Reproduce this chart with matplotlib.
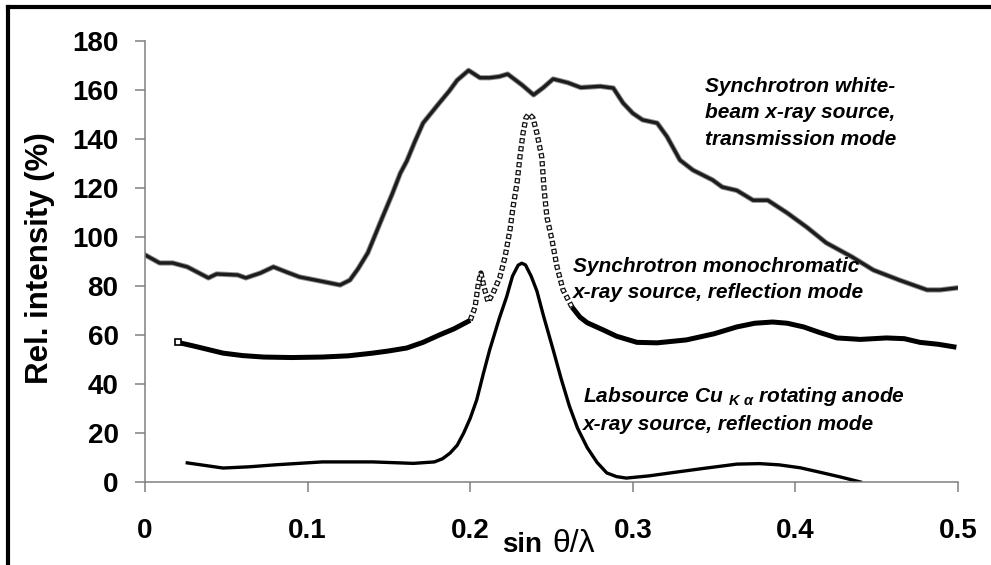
import matplotlib
matplotlib.use("Agg")
import matplotlib.pyplot as plt
from matplotlib.lines import Line2D
import numpy as np

plt.rcParams['font.family'] = ['Liberation Sans', 'DejaVu Sans']
plt.rcParams['mathtext.fontset'] = 'custom'
plt.rcParams['mathtext.it'] = 'Liberation Sans:italic:bold'
plt.rcParams['mathtext.rm'] = 'Liberation Sans:italic:bold'
plt.rcParams['lines.scale_dashes'] = False

# white-beam synchrotron, transmission mode
white_x = [0.0, 0.009, 0.017, 0.026, 0.039, 0.044, 0.057, 0.062, 0.071, 0.079,
           0.087, 0.095, 0.108, 0.120, 0.126, 0.131, 0.137, 0.146, 0.152, 0.157,
           0.161, 0.166, 0.171, 0.181, 0.187, 0.192, 0.199, 0.206, 0.212, 0.218,
           0.223, 0.226, 0.232, 0.239, 0.245, 0.251, 0.260, 0.268, 0.280, 0.288,
           0.294, 0.300, 0.306, 0.315, 0.321, 0.329, 0.337, 0.349, 0.355, 0.364,
           0.374, 0.383, 0.395, 0.407, 0.419, 0.435, 0.448, 0.464, 0.481, 0.489,
           0.499]
white_y = [92.7, 89.4, 89.4, 87.8, 83.3, 84.9, 84.5, 83.3, 85.3, 87.8,
           85.7, 83.7, 82.0, 80.4, 82.4, 87.0, 93.5, 108.0, 117.5, 126.0,
           131.0, 139.0, 146.5, 154.7, 159.5, 164.0, 168.0, 165.0, 165.0, 165.5,
           166.5, 165.0, 162.0, 158.0, 161.0, 164.5, 163.0, 161.0, 161.5, 160.8,
           154.7, 150.5, 147.8, 146.5, 141.0, 131.4, 127.3, 123.3, 120.4, 119.0,
           115.0, 115.0, 109.8, 104.0, 97.6, 91.8, 86.5, 82.4, 78.4, 78.4,
           79.2]

# monochromatic synchrotron, reflection mode
mono_x = [0.020, 0.030, 0.048, 0.060, 0.073, 0.090, 0.109, 0.125, 0.140, 0.150,
          0.161, 0.171, 0.181, 0.190, 0.200, 0.203, 0.205, 0.2066, 0.2085, 0.211,
          0.214, 0.2183, 0.2214, 0.2245, 0.2263, 0.2288, 0.2306, 0.2325, 0.2343, 0.2360,
          0.2386, 0.241, 0.244, 0.2455, 0.2472, 0.2503, 0.2534, 0.2571, 0.2626, 0.2675,
          0.272, 0.282, 0.290, 0.3026, 0.315, 0.333, 0.350, 0.364, 0.375, 0.386,
          0.395, 0.405, 0.415, 0.4256, 0.440, 0.456, 0.467, 0.4766, 0.488, 0.499]
mono_y = [57.0, 55.5, 52.6, 51.6, 51.0, 50.8, 51.0, 51.5, 52.6, 53.5,
          54.7, 57.0, 60.0, 62.5, 66.0, 71.4, 81.0, 85.3, 79.6, 73.5,
          77.0, 83.7, 91.8, 103.0, 112.0, 122.0, 132.7, 142.4, 148.6, 150.2,
          148.6, 142.4, 132.7, 119.0, 108.0, 98.8, 87.8, 78.4, 71.4, 67.3,
          65.0, 62.0, 59.5, 57.0, 56.8, 58.0, 60.5, 63.3, 64.8, 65.3,
          64.8, 63.3, 61.0, 58.8, 58.2, 58.8, 58.5, 57.0, 56.2, 55.0]

# lab source Cu K-alpha rotating anode, reflection mode
lab_x = [0.026, 0.048, 0.064, 0.080, 0.109, 0.140, 0.165, 0.178, 0.183, 0.1876,
         0.192, 0.196, 0.200, 0.204, 0.208, 0.212, 0.215, 0.218, 0.2224, 0.226,
         0.2295, 0.2317, 0.234, 0.2375, 0.241, 0.245, 0.251, 0.256, 0.261, 0.266,
         0.272, 0.278, 0.284, 0.290, 0.296, 0.310, 0.323, 0.343, 0.364, 0.378,
         0.390, 0.403, 0.415, 0.428, 0.440]
lab_y = [7.8, 5.7, 6.2, 7.0, 8.2, 8.2, 7.6, 8.2, 9.5, 11.8,
         15.0, 20.0, 26.0, 33.5, 44.0, 54.0, 60.5, 67.0, 75.6, 84.0,
         88.5, 89.3, 88.6, 84.0, 78.0, 68.0, 54.0, 42.0, 31.0, 22.0,
         14.0, 8.0, 3.7, 2.2, 1.6, 2.5, 3.7, 5.5, 7.3, 7.5,
         7.0, 5.8, 4.0, 2.0, 0.0]

xticks = [0, 0.1, 0.2, 0.3, 0.4, 0.5]
xtick_labels = ['0', '0.1', '0.2', '0.3', '0.4', '0.5']
yticks = [0, 20, 40, 60, 80, 100, 120, 140, 160, 180]

W, H = 991, 565
fig = plt.figure(figsize=(W / 100, H / 100), dpi=100)
ax = fig.add_axes([145 / W, 1 - 482 / H, (958 - 145) / W, (482 - 41) / H])

mx = np.array(mono_x)
my = np.array(mono_y)
left = mx <= 0.2001
peak = (mx >= 0.2) & (mx <= 0.2627)
right = mx >= 0.2625

# white beam: grey halo with dark core
ax.plot(white_x, white_y, color='#8f8f8f', lw=3.8, solid_joinstyle='round')
ax.plot(white_x, white_y, color='#1c1c1c', lw=2.4, solid_joinstyle='round')

# monochromatic: open squares on the peak, thick band where flat
ax.plot(mx[left], my[left], color='black', lw=3.6, solid_capstyle='butt',
        solid_joinstyle='round')
ax.plot(mx[left][:1], my[left][:1], 's', ms=4.5, mfc='white', mec='black', mew=1.2)
ax.plot(mx[right], my[right], color='black', lw=3.6, solid_capstyle='butt',
        solid_joinstyle='round')
ax.plot(mx[peak], my[peak], color='#111111', lw=3.8, linestyle=(0, (3.8, 2.0)),
        dash_capstyle='butt')
ax.plot(mx[peak], my[peak], color='white', lw=2.0, linestyle=(4.9, (2.0, 3.8)),
        dash_capstyle='butt')

# lab source
ax.plot(lab_x, lab_y, color='black', lw=2.4, solid_joinstyle='round')

ax.set_xlim(0, 0.5)
ax.set_ylim(0, 180)
ax.set_xticks(xticks)
ax.set_xticklabels(xtick_labels)
ax.set_yticks(yticks)
for s in ['top', 'right']:
    ax.spines[s].set_visible(False)
for s in ['left', 'bottom']:
    ax.spines[s].set_color('#808080')
    ax.spines[s].set_linewidth(1.1)
ax.tick_params(axis='y', direction='out', length=7, width=1.1, color='#808080',
               labelsize=20, pad=12)
ax.tick_params(axis='x', direction='out', length=7, width=1.1, color='#808080',
               labelsize=20, pad=19)
for lbl in ax.get_xticklabels() + ax.get_yticklabels():
    lbl.set_fontweight('bold')

fig.text(40 / W, 1 - 258 / H, 'Rel. intensity (%)', rotation=90, ha='center',
         va='center', fontsize=22.5, fontweight='bold')
fig.text(502 / W, 1 - 552 / H, 'sin', ha='left', va='baseline', fontsize=20,
         fontweight='bold')
fig.text(552 / W, 1 - 552 / H, 'θ/λ', ha='left', va='baseline', fontsize=23)

ann = dict(fontsize=15, fontweight='bold', fontstyle='italic', ha='left', va='center')
fig.text(705 / W, 1 - 87 / H, 'Synchrotron white-', **ann)
fig.text(705 / W, 1 - 113 / H, 'beam x-ray source,', **ann)
fig.text(705 / W, 1 - 140 / H, 'transmission mode', **ann)
fig.text(573 / W, 1 - 266 / H, 'Synchrotron monochromatic', **ann)
fig.text(573 / W, 1 - 293 / H, 'x-ray source, reflection mode', **ann)
fig.text(583 / W, 1 - 397 / H, r'Labsource Cu $_{K\ \alpha}$ rotating anode', **ann)
fig.text(583 / W, 1 - 425 / H, 'x-ray source, reflection mode', **ann)

# thick outer frame (left and top edges visible)
fig.add_artist(Line2D([8 / W, 8 / W], [-0.01, 1 - 7 / H], color='black', lw=3,
                      transform=fig.transFigure, solid_capstyle='projecting'))
fig.add_artist(Line2D([8 / W, 1.01], [1 - 7 / H, 1 - 7 / H], color='black', lw=3,
                      transform=fig.transFigure, solid_capstyle='projecting'))

fig.savefig('out.png', dpi=100)
